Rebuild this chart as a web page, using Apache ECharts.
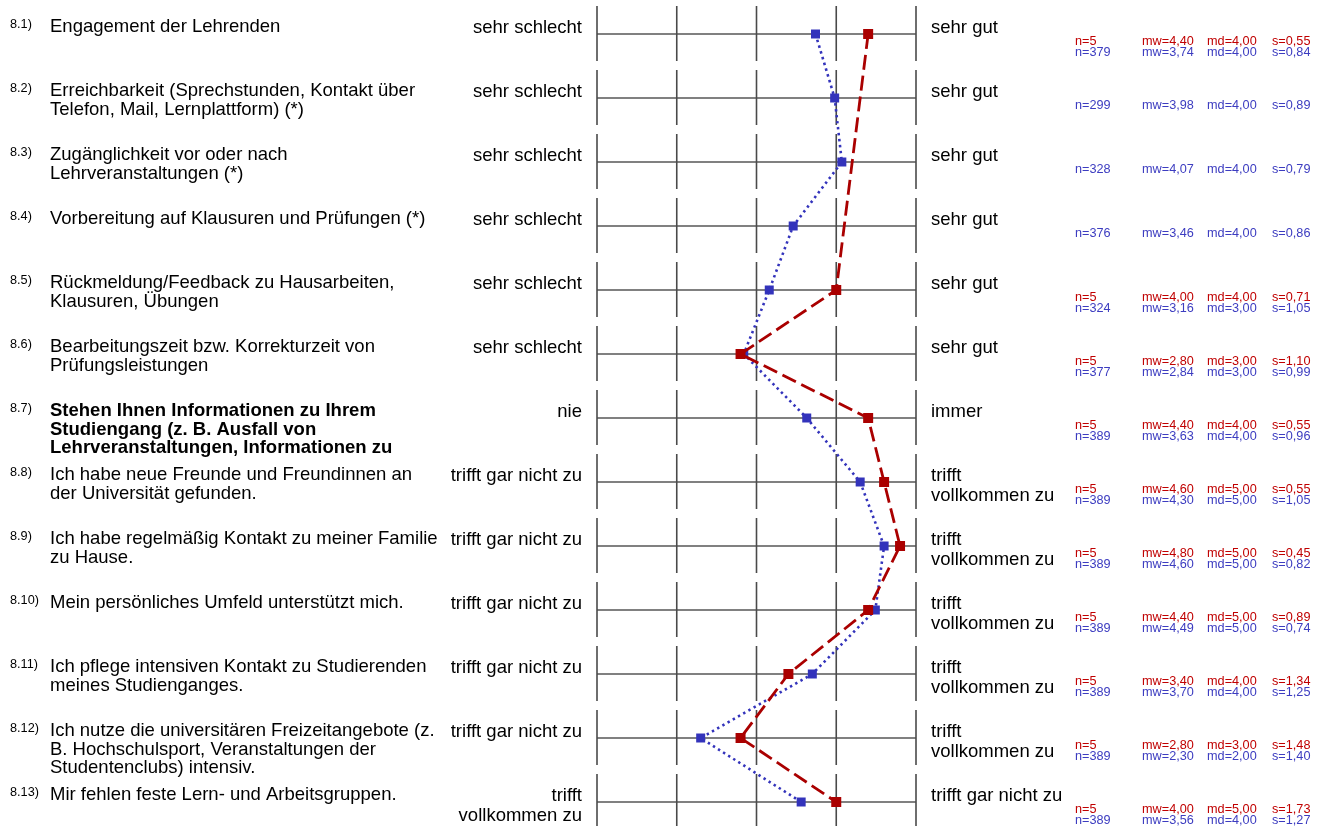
<!DOCTYPE html>
<html>
<head>
<meta charset="utf-8">
<script src="https://cdn.jsdelivr.net/npm/echarts@6/dist/echarts.min.js"></script>
<style>
html,body{margin:0;padding:0;background:#fff;}
#chart{width:1321px;height:826px;}
</style>
</head>
<body>
<div id="chart"></div>
<script>
// ---------- data ----------
const itemNumbers = ['8.1)','8.2)','8.3)','8.4)','8.5)','8.6)','8.7)','8.8)','8.9)','8.10)','8.11)','8.12)','8.13)'];
const questions = [
  'Engagement der Lehrenden',
  'Erreichbarkeit (Sprechstunden, Kontakt über\nTelefon, Mail, Lernplattform) (*)',
  'Zugänglichkeit vor oder nach\nLehrveranstaltungen (*)',
  'Vorbereitung auf Klausuren und Prüfungen (*)',
  'Rückmeldung/Feedback zu Hausarbeiten,\nKlausuren, Übungen',
  'Bearbeitungszeit bzw. Korrekturzeit von\nPrüfungsleistungen',
  'Stehen Ihnen Informationen zu Ihrem\nStudiengang (z. B. Ausfall von\nLehrveranstaltungen, Informationen zu',
  'Ich habe neue Freunde und Freundinnen an\nder Universität gefunden.',
  'Ich habe regelmäßig Kontakt zu meiner Familie\nzu Hause.',
  'Mein persönliches Umfeld unterstützt mich.',
  'Ich pflege intensiven Kontakt zu Studierenden\nmeines Studienganges.',
  'Ich nutze die universitären Freizeitangebote (z.\nB. Hochschulsport, Veranstaltungen der\nStudentenclubs) intensiv.',
  'Mir fehlen feste Lern- und Arbeitsgruppen.'
];
const boldRows = [false,false,false,false,false,false,true,false,false,false,false,false,false];
const leftAnchors = ['sehr schlecht','sehr schlecht','sehr schlecht','sehr schlecht','sehr schlecht','sehr schlecht','nie',
  'trifft gar nicht zu','trifft gar nicht zu','trifft gar nicht zu','trifft gar nicht zu','trifft gar nicht zu','trifft\nvollkommen zu'];
const rightAnchors = ['sehr gut','sehr gut','sehr gut','sehr gut','sehr gut','sehr gut','immer',
  'trifft\nvollkommen zu','trifft\nvollkommen zu','trifft\nvollkommen zu','trifft\nvollkommen zu','trifft\nvollkommen zu','trifft gar nicht zu'];

const redMean  = [4.40, null, null, null, 4.00, 2.80, 4.40, 4.60, 4.80, 4.40, 3.40, 2.80, 4.00];
const blueMean = [3.74, 3.98, 4.07, 3.46, 3.16, 2.84, 3.63, 4.30, 4.60, 4.49, 3.70, 2.30, 3.56];

const redN    = [5, null, null, null, 5, 5, 5, 5, 5, 5, 5, 5, 5];
const redMd   = ['4,00', null, null, null, '4,00', '3,00', '4,00', '5,00', '5,00', '5,00', '4,00', '3,00', '5,00'];
const redS    = ['0,55', null, null, null, '0,71', '1,10', '0,55', '0,55', '0,45', '0,89', '1,34', '1,48', '1,73'];
const blueN   = [379, 299, 328, 376, 324, 377, 389, 389, 389, 389, 389, 389, 389];
const blueMd  = ['4,00','4,00','4,00','4,00','3,00','3,00','4,00','5,00','5,00','5,00','4,00','2,00','4,00'];
const blueS   = ['0,84','0,89','0,79','0,86','1,05','0,99','0,96','1,05','0,82','0,74','1,25','1,40','1,27'];

const scaleTicks = [1, 2, 3, 4, 5];

// ---------- styles ----------
const RED_LINE = '#aa0000', BLUE_LINE = '#3333bb';
const RED_TEXT = '#c00000', BLUE_TEXT = '#3c3cc0';
const FONT = 'Liberation Sans, Arial, sans-serif';

const fmt = v => v.toFixed(2).replace('.', ',');
const rows = questions.map((q, i) => [1, i + 1]);

function frameItem(params, api) {
  const r = api.value(1);
  const c = api.coord([1, r]);
  const xe = api.coord([5, r])[0];
  const children = [{
    type: 'line',
    shape: {x1: c[0], y1: c[1], x2: xe, y2: c[1]},
    style: {stroke: '#808080', lineWidth: 2}
  }];
  scaleTicks.forEach(t => {
    const x = api.coord([t, r])[0];
    children.push({
      type: 'line',
      shape: {x1: x, y1: c[1] - 28, x2: x, y2: c[1] + 27},
      style: {stroke: '#4a4a4a', lineWidth: 1.6}
    });
  });
  return {type: 'group', children};
}

function txt(x, y, text, o) {
  return {
    type: 'text',
    x: x, y: y,
    style: Object.assign({
      text: text, fill: '#000', fontFamily: FONT, fontSize: 18.5,
      align: 'left', verticalAlign: 'top', lineHeight: 17
    }, o || {})
  };
}

function textItem(params, api) {
  const r = api.value(1);
  const i = r - 1;
  const c = api.coord([1, r]);
  const xe = api.coord([5, r])[0];
  const y = c[1];
  const ch = [];
  ch.push(txt(10, y - 16.4, itemNumbers[i], {fontSize: 12.7, lineHeight: 14}));
  ch.push(txt(50, y - 16.2, questions[i], {fontWeight: boldRows[i] ? 'bold' : 'normal', lineHeight: 18.5}));
  ch.push(txt(c[0] - 15, y - 16.5, leftAnchors[i], {align: 'right', lineHeight: 20}));
  ch.push(txt(xe + 15, y - 16.5, rightAnchors[i], {lineHeight: 20}));
  const cols = [1075, 1142, 1207, 1272];
  let yy = y + 1.3;
  if (redMean[i] != null) {
    const vals = ['n=' + redN[i], 'mw=' + fmt(redMean[i]), 'md=' + redMd[i], 's=' + redS[i]];
    vals.forEach((v, k) => ch.push(txt(cols[k], yy, v, {fontSize: 12.7, lineHeight: 11.5, fill: RED_TEXT})));
    yy += 11.3;
  }
  const bvals = ['n=' + blueN[i], 'mw=' + fmt(blueMean[i]), 'md=' + blueMd[i], 's=' + blueS[i]];
  bvals.forEach((v, k) => ch.push(txt(cols[k], yy, v, {fontSize: 12.7, lineHeight: 11.5, fill: BLUE_TEXT})));
  return {type: 'group', children: ch};
}

const chart = echarts.init(document.getElementById('chart'), null, {renderer: 'canvas'});
chart.setOption({
  animation: false,
  backgroundColor: '#ffffff',
  grid: {left: 597, right: 405, top: 34, bottom: 24, containLabel: false},
  xAxis: {type: 'value', min: 1, max: 5, interval: 1, show: false},
  yAxis: {type: 'value', min: 1, max: 13, interval: 1, inverse: true, show: false},
  series: [
    {type: 'custom', renderItem: frameItem, data: rows, z: 1, silent: true, clip: false},
    {type: 'custom', renderItem: textItem, data: rows, z: 1, silent: true, clip: false},
    {
      type: 'line', z: 3,
      data: blueMean.map((v, i) => [v == null ? '-' : v, i + 1]),
      symbol: 'rect', symbolSize: 9,
      itemStyle: {color: BLUE_LINE},
      lineStyle: {color: BLUE_LINE, width: 2.6, type: [2.4, 3.6]},
      connectNulls: true
    },
    {
      type: 'line', z: 4,
      data: redMean.map((v, i) => [v == null ? '-' : v, i + 1]),
      symbol: 'rect', symbolSize: 10,
      itemStyle: {color: RED_LINE},
      lineStyle: {color: RED_LINE, width: 2.8, type: [15, 6]},
      connectNulls: true
    }
  ]
});
</script>
</body>
</html>
